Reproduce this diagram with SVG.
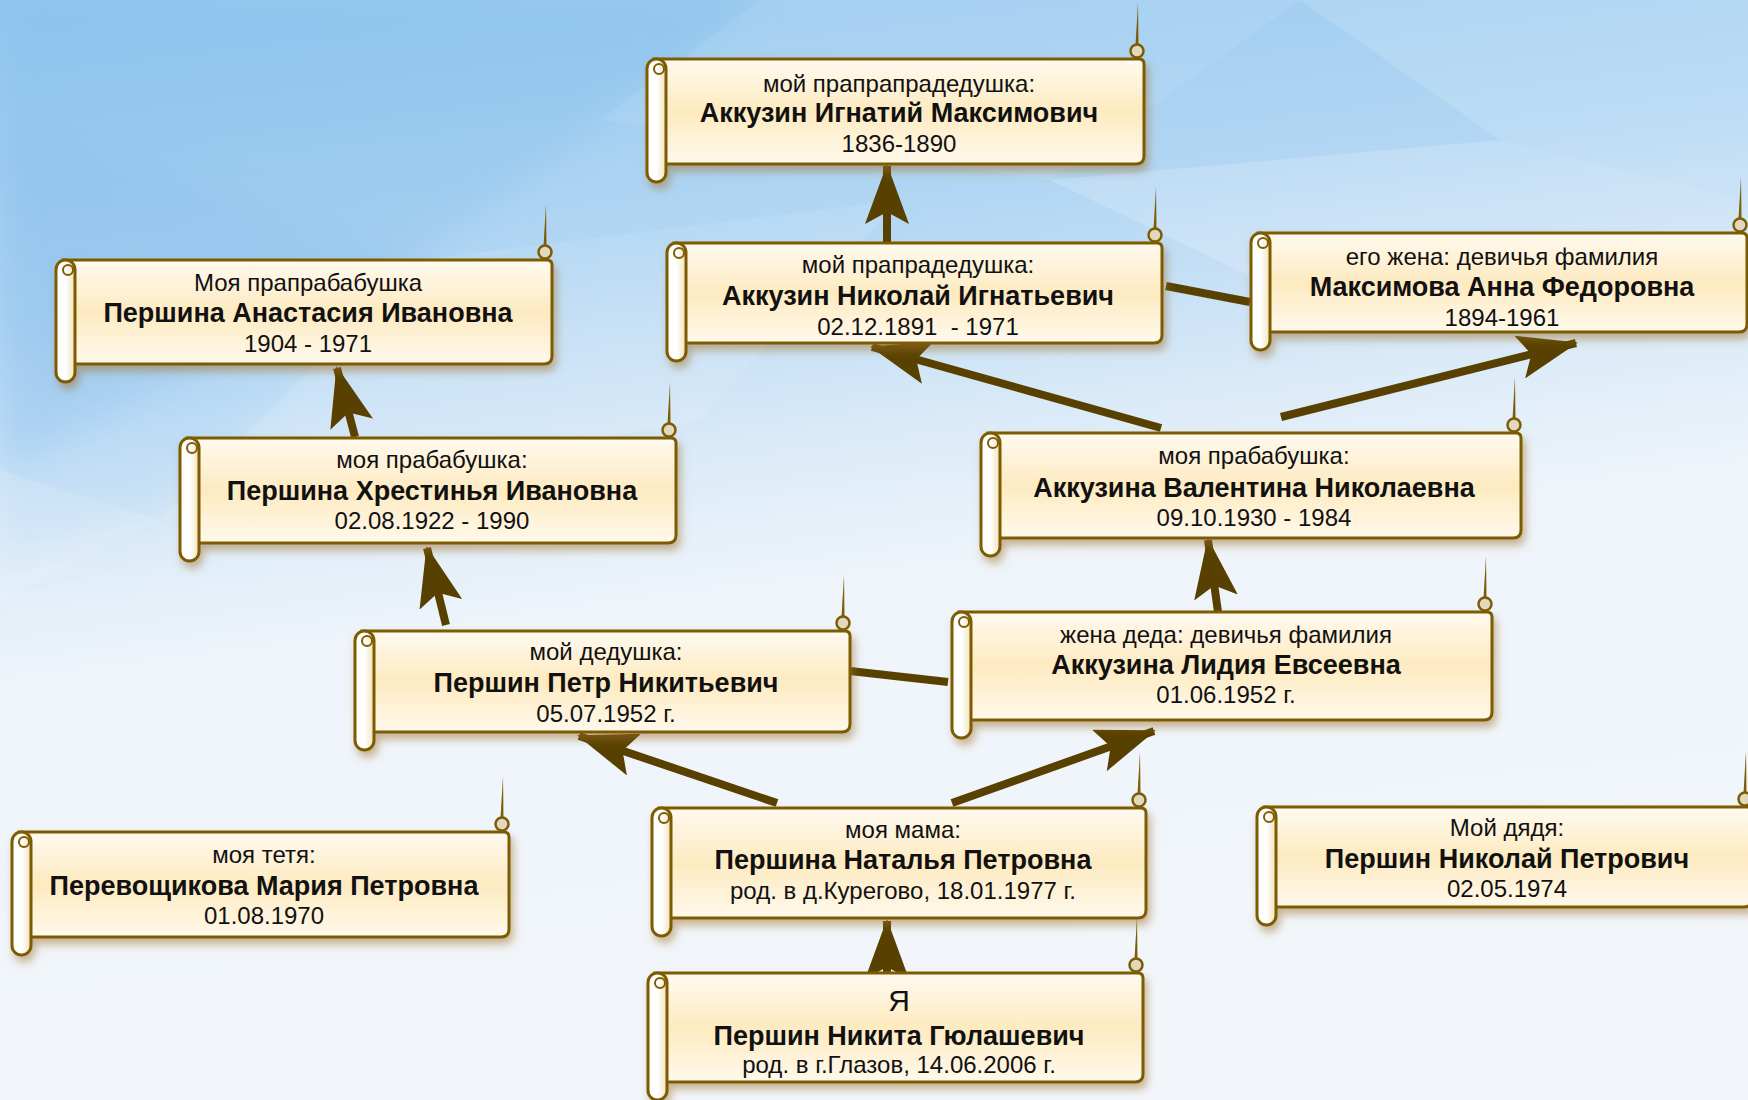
<svg xmlns="http://www.w3.org/2000/svg" width="1748" height="1100" viewBox="0 0 1748 1100">
<defs>
<linearGradient id="bg" x1="0" y1="0" x2="0.2" y2="1">
<stop offset="0" stop-color="#93c7ef"/>
<stop offset="0.28" stop-color="#b2d6f3"/>
<stop offset="0.48" stop-color="#dcebf8"/>
<stop offset="0.6" stop-color="#eef4fa"/>
<stop offset="1" stop-color="#f2f6fb"/>
</linearGradient>
<linearGradient id="bodyG" x1="0" y1="0" x2="0" y2="1">
<stop offset="0" stop-color="#fffaf0"/>
<stop offset="0.5" stop-color="#fdeac0"/>
<stop offset="1" stop-color="#fff9ec"/>
</linearGradient>
<linearGradient id="rollG" x1="0" y1="0" x2="1" y2="0">
<stop offset="0" stop-color="#fffef9"/>
<stop offset="0.5" stop-color="#ffffff"/>
<stop offset="1" stop-color="#f3e2b8"/>
</linearGradient>
<filter id="sh" x="-5%" y="-30%" width="115%" height="170%">
<feDropShadow dx="3" dy="6" stdDeviation="4" flood-color="#a0702a" flood-opacity="0.5"/>
</filter>
<filter id="soft" x="-10%" y="-10%" width="120%" height="120%">
<feGaussianBlur stdDeviation="18"/>
</filter>
<marker id="arr" markerUnits="userSpaceOnUse" viewBox="0 0 60 44" refX="58" refY="22" markerWidth="60" markerHeight="44" orient="auto">
<path d="M0,0 L60,22 L0,44 L12,22 Z" fill="#584100"/>
</marker>
<style>
.body{fill:url(#bodyG);stroke:#7d5c06;stroke-width:3}
.roll{fill:url(#rollG);stroke:#7d5c06;stroke-width:3}
.curl{fill:#e2d8c0;stroke:#7d5c06;stroke-width:2.5}
.rc{fill:none;stroke:#7d5c06;stroke-width:2}
.spike{fill:#7d5c06}
.lbl{font-family:"Liberation Sans",Arial,sans-serif;font-size:24px;fill:#111;text-anchor:middle}
.nm{font-family:"Liberation Sans",Arial,sans-serif;font-size:27px;font-weight:bold;fill:#111;text-anchor:middle}
.ya{font-family:"Liberation Sans",Arial,sans-serif;font-size:30px;fill:#111;text-anchor:middle}
.con{stroke:#584100;stroke-width:8;fill:none}
</style>
</defs>
<rect width="1748" height="1100" fill="url(#bg)"/>
<g id="background-facets">
<g filter="url(#soft)">
<polygon points="0,0 760,0 420,260 0,470" fill="#6aaee8" opacity="0.2"/>
<polygon points="0,120 420,260 160,520 0,560" fill="#78b6ea" opacity="0.15"/>
</g>
<polygon points="760,0 1300,0 1050,180 600,120" fill="#ffffff" opacity="0.08"/>
<polygon points="1300,0 1748,0 1748,200 1500,140" fill="#ffffff" opacity="0.14"/>
<polygon points="1050,180 1500,140 1748,200 1748,330 1300,300" fill="#ffffff" opacity="0.18"/>
<polygon points="420,260 900,200 700,420 160,520" fill="#ffffff" opacity="0.1"/>
<polygon points="0,470 160,520 0,600" fill="#ffffff" opacity="0.12"/>
</g>
<g id="connectors">
<line class="con" x1="887" y1="243" x2="887" y2="166" marker-end="url(#arr)"/>
<line class="con" x1="1161" y1="428" x2="872" y2="347" marker-end="url(#arr)"/>
<line class="con" x1="1281" y1="417" x2="1576" y2="343" marker-end="url(#arr)"/>
<line class="con" x1="1166" y1="286" x2="1250" y2="302"/>
<line class="con" x1="355" y1="437" x2="337" y2="368" marker-end="url(#arr)"/>
<line class="con" x1="446" y1="625" x2="427" y2="548" marker-end="url(#arr)"/>
<line class="con" x1="1218" y1="612" x2="1208" y2="540" marker-end="url(#arr)"/>
<line class="con" x1="850" y1="671" x2="948" y2="682"/>
<line class="con" x1="777" y1="803" x2="579" y2="736" marker-end="url(#arr)"/>
<line class="con" x1="952" y1="803" x2="1154" y2="731" marker-end="url(#arr)"/>
<line class="con" x1="887" y1="980" x2="887" y2="921" marker-end="url(#arr)"/>
</g>
<g id="node-ignatiy" transform="translate(646,59)">
<g filter="url(#sh)"><path class="body" d="M8,0 H493 Q498,0 498,5 V97 Q498,105 490,105 H8 Z"/><rect class="roll" x="1" y="0" width="19" height="123" rx="9.5"/></g>
<circle class="rc" cx="13" cy="10" r="5"/><circle class="curl" cx="491" cy="-8" r="6.5"/><polygon class="spike" points="489.5,-14 492.5,-14 492,-56"/>
<text class="lbl" x="253" y="33">мой прапрапрадедушка:</text>
<text class="nm" x="253" y="63">Аккузин Игнатий Максимович</text>
<text class="lbl" x="253" y="93">1836-1890</text>
</g>
<g id="node-nikolay-ign" transform="translate(666,243)">
<g filter="url(#sh)"><path class="body" d="M8,0 H491 Q496,0 496,5 V92 Q496,100 488,100 H8 Z"/><rect class="roll" x="1" y="0" width="19" height="118" rx="9.5"/></g>
<circle class="rc" cx="13" cy="10" r="5"/><circle class="curl" cx="489" cy="-8" r="6.5"/><polygon class="spike" points="487.5,-14 490.5,-14 490,-56"/>
<text class="lbl" x="252" y="30">мой прапрадедушка:</text>
<text class="nm" x="252" y="62">Аккузин Николай Игнатьевич</text>
<text class="lbl" x="252" y="92" xml:space="preserve">02.12.1891  - 1971</text>
</g>
<g id="node-maksimova" transform="translate(1250,233)">
<g filter="url(#sh)"><path class="body" d="M8,0 H492 Q497,0 497,5 V91 Q497,99 489,99 H8 Z"/><rect class="roll" x="1" y="0" width="19" height="117" rx="9.5"/></g>
<circle class="rc" cx="13" cy="10" r="5"/><circle class="curl" cx="490" cy="-8" r="6.5"/><polygon class="spike" points="488.5,-14 491.5,-14 491,-56"/>
<text class="lbl" x="252" y="32">его жена: девичья фамилия</text>
<text class="nm" x="252" y="63">Максимова Анна Федоровна</text>
<text class="lbl" x="252" y="93">1894-1961</text>
</g>
<g id="node-anastasiya" transform="translate(55,260)">
<g filter="url(#sh)"><path class="body" d="M8,0 H492 Q497,0 497,5 V96 Q497,104 489,104 H8 Z"/><rect class="roll" x="1" y="0" width="19" height="122" rx="9.5"/></g>
<circle class="rc" cx="13" cy="10" r="5"/><circle class="curl" cx="490" cy="-8" r="6.5"/><polygon class="spike" points="488.5,-14 491.5,-14 491,-56"/>
<text class="lbl" x="253" y="31">Моя прапрабабушка</text>
<text class="nm" x="253" y="62">Першина Анастасия Ивановна</text>
<text class="lbl" x="253" y="92">1904 - 1971</text>
</g>
<g id="node-hrestinya" transform="translate(179,438)">
<g filter="url(#sh)"><path class="body" d="M8,0 H492 Q497,0 497,5 V97 Q497,105 489,105 H8 Z"/><rect class="roll" x="1" y="0" width="19" height="123" rx="9.5"/></g>
<circle class="rc" cx="13" cy="10" r="5"/><circle class="curl" cx="490" cy="-8" r="6.5"/><polygon class="spike" points="488.5,-14 491.5,-14 491,-56"/>
<text class="lbl" x="253" y="30">моя прабабушка:</text>
<text class="nm" x="253" y="62">Першина Хрестинья Ивановна</text>
<text class="lbl" x="253" y="91">02.08.1922 - 1990</text>
</g>
<g id="node-valentina" transform="translate(980,433)">
<g filter="url(#sh)"><path class="body" d="M8,0 H536 Q541,0 541,5 V97 Q541,105 533,105 H8 Z"/><rect class="roll" x="1" y="0" width="19" height="123" rx="9.5"/></g>
<circle class="rc" cx="13" cy="10" r="5"/><circle class="curl" cx="534" cy="-8" r="6.5"/><polygon class="spike" points="532.5,-14 535.5,-14 535,-56"/>
<text class="lbl" x="274" y="31">моя прабабушка:</text>
<text class="nm" x="274" y="64">Аккузина Валентина Николаевна</text>
<text class="lbl" x="274" y="93">09.10.1930 - 1984</text>
</g>
<g id="node-lidiya" transform="translate(951,612)">
<g filter="url(#sh)"><path class="body" d="M8,0 H536 Q541,0 541,5 V100 Q541,108 533,108 H8 Z"/><rect class="roll" x="1" y="0" width="19" height="126" rx="9.5"/></g>
<circle class="rc" cx="13" cy="10" r="5"/><circle class="curl" cx="534" cy="-8" r="6.5"/><polygon class="spike" points="532.5,-14 535.5,-14 535,-56"/>
<text class="lbl" x="275" y="31">жена деда: девичья фамилия</text>
<text class="nm" x="275" y="62">Аккузина Лидия Евсеевна</text>
<text class="lbl" x="275" y="91">01.06.1952 г.</text>
</g>
<g id="node-petr" transform="translate(354,631)">
<g filter="url(#sh)"><path class="body" d="M8,0 H491 Q496,0 496,5 V93 Q496,101 488,101 H8 Z"/><rect class="roll" x="1" y="0" width="19" height="119" rx="9.5"/></g>
<circle class="rc" cx="13" cy="10" r="5"/><circle class="curl" cx="489" cy="-8" r="6.5"/><polygon class="spike" points="487.5,-14 490.5,-14 490,-56"/>
<text class="lbl" x="252" y="29">мой дедушка:</text>
<text class="nm" x="252" y="61">Першин Петр Никитьевич</text>
<text class="lbl" x="252" y="91">05.07.1952 г.</text>
</g>
<g id="node-perevoshchikova" transform="translate(11,832)">
<g filter="url(#sh)"><path class="body" d="M8,0 H493 Q498,0 498,5 V97 Q498,105 490,105 H8 Z"/><rect class="roll" x="1" y="0" width="19" height="123" rx="9.5"/></g>
<circle class="rc" cx="13" cy="10" r="5"/><circle class="curl" cx="491" cy="-8" r="6.5"/><polygon class="spike" points="489.5,-14 492.5,-14 492,-56"/>
<text class="lbl" x="253" y="31">моя тетя:</text>
<text class="nm" x="253" y="63">Перевощикова Мария Петровна</text>
<text class="lbl" x="253" y="92">01.08.1970</text>
</g>
<g id="node-natalya" transform="translate(651,808)">
<g filter="url(#sh)"><path class="body" d="M8,0 H490 Q495,0 495,5 V102 Q495,110 487,110 H8 Z"/><rect class="roll" x="1" y="0" width="19" height="128" rx="9.5"/></g>
<circle class="rc" cx="13" cy="10" r="5"/><circle class="curl" cx="488" cy="-8" r="6.5"/><polygon class="spike" points="486.5,-14 489.5,-14 489,-56"/>
<text class="lbl" x="252" y="30">моя мама:</text>
<text class="nm" x="252" y="61">Першина Наталья Петровна</text>
<text class="lbl" x="252" y="91">род. в д.Курегово, 18.01.1977 г.</text>
</g>
<g id="node-nikolay-petr" transform="translate(1256,807)">
<g filter="url(#sh)"><path class="body" d="M8,0 H491 Q496,0 496,5 V92 Q496,100 488,100 H8 Z"/><rect class="roll" x="1" y="0" width="19" height="118" rx="9.5"/></g>
<circle class="rc" cx="13" cy="10" r="5"/><circle class="curl" cx="489" cy="-8" r="6.5"/><polygon class="spike" points="487.5,-14 490.5,-14 490,-56"/>
<text class="lbl" x="251" y="29">Мой дядя:</text>
<text class="nm" x="251" y="61">Першин Николай Петрович</text>
<text class="lbl" x="251" y="90">02.05.1974</text>
</g>
<g id="node-ya" transform="translate(647,973)">
<g filter="url(#sh)"><path class="body" d="M8,0 H491 Q496,0 496,5 V101 Q496,109 488,109 H8 Z"/><rect class="roll" x="1" y="0" width="19" height="127" rx="9.5"/></g>
<circle class="rc" cx="13" cy="10" r="5"/><circle class="curl" cx="489" cy="-8" r="6.5"/><polygon class="spike" points="487.5,-14 490.5,-14 490,-56"/>
<text class="ya" x="252" y="38">Я</text>
<text class="nm" x="252" y="72">Першин Никита Гюлашевич</text>
<text class="lbl" x="252" y="100">род. в г.Глазов, 14.06.2006 г.</text>
</g>
</svg>
